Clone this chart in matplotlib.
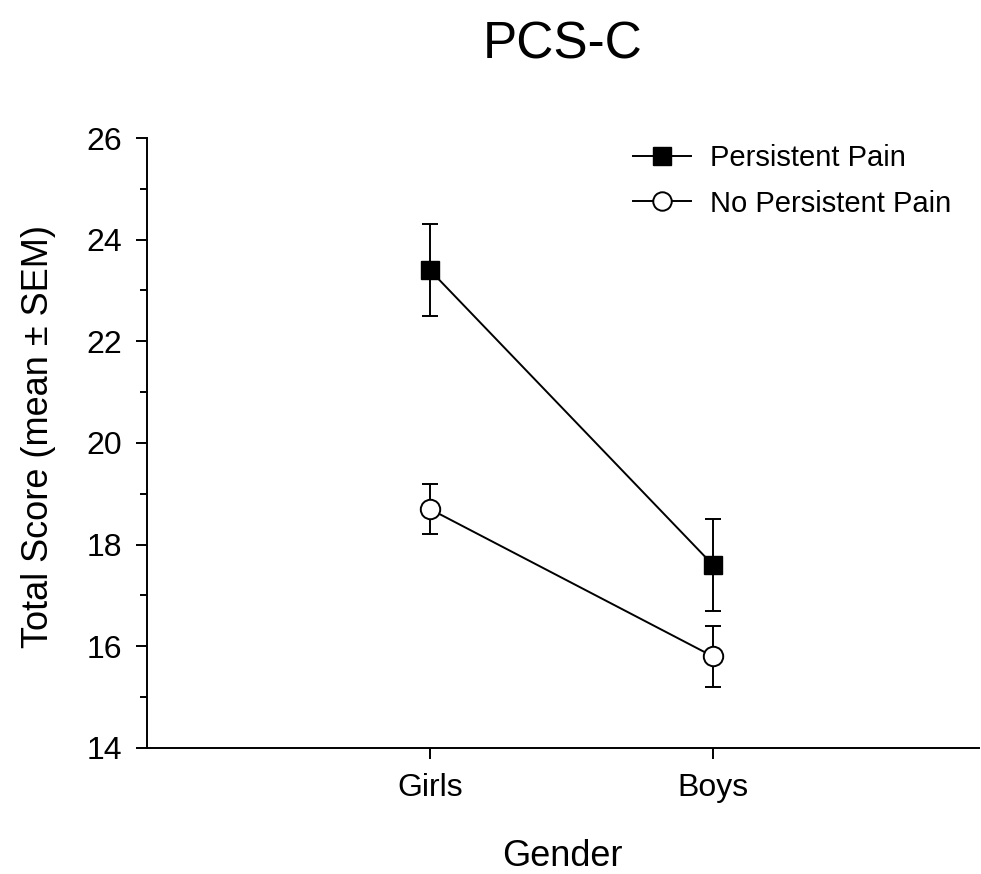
import numpy as np
import matplotlib
matplotlib.use("Agg")
import matplotlib.pyplot as plt
from matplotlib.ticker import MultipleLocator

plt.rcParams['font.family'] = ['Liberation Sans', 'DejaVu Sans']

groups = ["Girls", "Boys"]
pain_mean = [23.4, 17.6]
pain_sem = [0.9, 0.9]
nopain_mean = [18.7, 15.8]
nopain_sem = [0.5, 0.6]

x = np.arange(1, len(groups) + 1)

fig = plt.figure(figsize=(9.81, 8.74), dpi=100)
ax = fig.add_axes([0.1498, 0.1442, 0.8482, 0.6979])

ax.errorbar(x, pain_mean, yerr=pain_sem, color='k', lw=1.4, elinewidth=1.4,
            capsize=6, capthick=1.4, marker='s', markersize=13,
            markerfacecolor='k', markeredgecolor='k', label="Persistent Pain", zorder=3)
ax.errorbar(x, nopain_mean, yerr=nopain_sem, color='k', lw=1.4, elinewidth=1.4,
            capsize=6, capthick=1.4, marker='o', markersize=14,
            markerfacecolor='white', markeredgecolor='k', markeredgewidth=1.4,
            label="No Persistent Pain", zorder=3)

ax.set_xlim(0, 2.94)
ax.set_ylim(14, 26)
ax.set_xticks(x)
ax.set_xticklabels(groups)
ax.yaxis.set_major_locator(MultipleLocator(2))
ax.yaxis.set_minor_locator(MultipleLocator(1))

for s in ['top', 'right']:
    ax.spines[s].set_visible(False)
for s in ['left', 'bottom']:
    ax.spines[s].set_linewidth(1.4)

ax.tick_params(axis='both', which='major', direction='out', length=8, width=1.4,
               labelsize=23, pad=10)
ax.tick_params(axis='y', which='minor', direction='out', length=5, width=1.4)

fig.text(0.039, 0.5, "Total Score (mean \u00b1 SEM)", rotation=90, fontsize=26,
         ha='center', va='center')
fig.text(0.5737, 0.02, "Gender", fontsize=26, ha='center', va='center')
fig.text(0.5737, 0.948, "PCS-C", fontsize=37, ha='center', va='center')

handles, labels = ax.get_legend_handles_labels()
handles = [h[0] for h in handles]
leg = ax.legend(handles, labels, loc='upper left', bbox_to_anchor=(0.584, 0.99),
                frameon=False, fontsize=21, handlelength=2.0, handletextpad=0.65,
                labelspacing=0.6, borderpad=0, borderaxespad=0, markerscale=0.95)

fig.savefig("out.png", dpi=100)
